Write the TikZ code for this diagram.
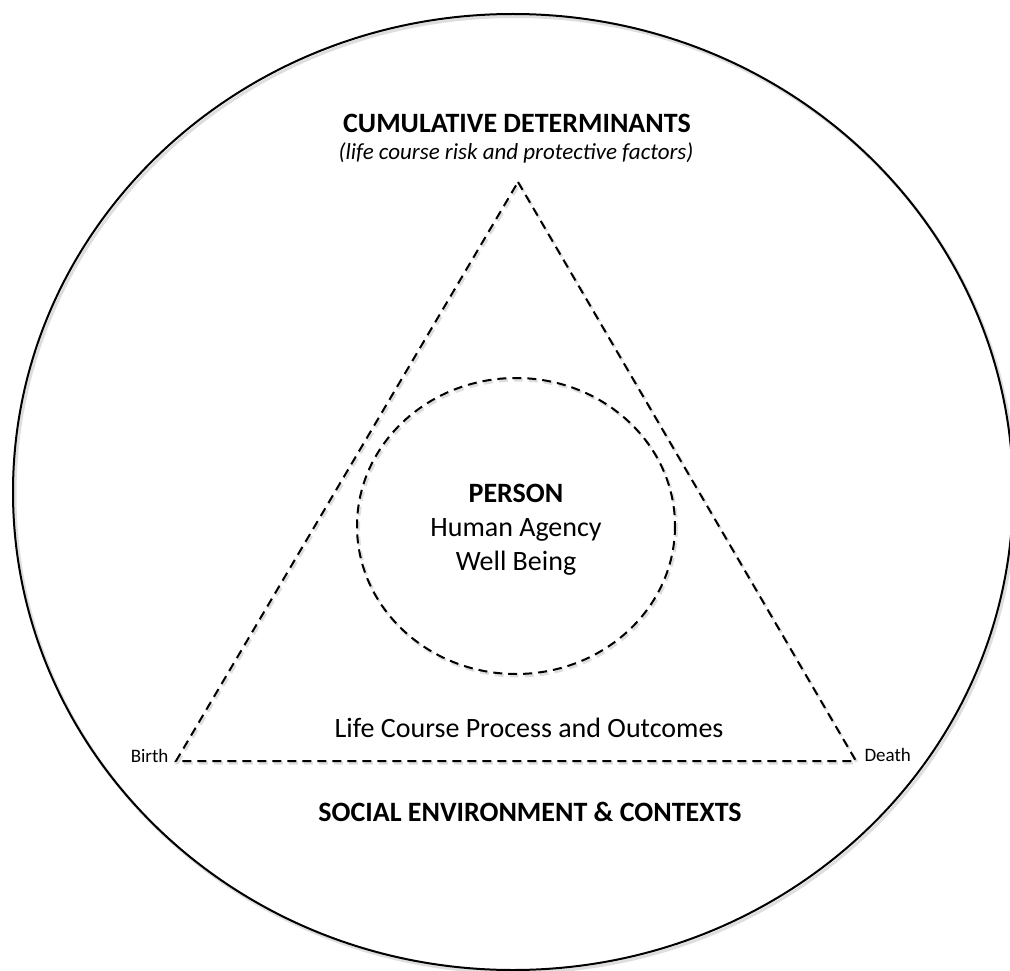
\documentclass[tikz,border=0pt]{standalone}
\usepackage{fontspec}
\setmainfont{Carlito}
\usetikzlibrary{shapes.geometric}
\begin{document}
\begin{tikzpicture}[x=1pt,y=-1pt,
  rim/.style={line width=2pt,draw=black},
  dashline/.style={line width=2pt,dash pattern=on 9pt off 6pt},
  shade/.style={line width=3pt,draw=black!25,opacity=0.5},
  head/.style={font=\fontsize{28}{32}\selectfont\bfseries},
  sub/.style={font=\fontsize{23}{27}\selectfont\itshape},
  body/.style={font=\fontsize{28}{34}\selectfont},
  tag/.style={font=\fontsize{19}{22}\selectfont}]
\useasboundingbox (0,0) rectangle (1010,971);
\fill[white] (0,0) rectangle (1010,971);

% outer context circle
\coordinate (oc) at (513,492);
\draw[shade] ([shift={(2,2.5)}]oc) ellipse [x radius=500, y radius=478];
\draw[rim] (oc) ellipse [x radius=500, y radius=478];

% life-course triangle
\coordinate (apex) at (518,182);
\coordinate (birth) at (176,761);
\coordinate (death) at (856,761);
\draw[shade,dash pattern=on 9pt off 6pt] ([shift={(1.5,2)}]apex) -- ([shift={(1.5,2)}]death) -- ([shift={(1.5,2)}]birth) -- cycle;
\draw[dashline,line join=miter] (apex) -- (death) -- (birth) -- cycle;

% person circle
\coordinate (pc) at (516,526);
\draw[shade,dash pattern=on 9pt off 6pt] ([shift={(1.5,2)}]pc) ellipse [x radius=159, y radius=148];
\draw[dashline] (pc) ellipse [x radius=159, y radius=148];

% labels
\node[head] (cum) at (517,123) {CUMULATIVE DETERMINANTS};
\node[sub] (cumsub) at (516,153) {(life course risk and protective factors)};
\node[body,align=center] (person) at (516,530) {\textbf{PERSON}\\Human Agency\\Well Being};
\node[body] (process) at (529,728) {Life Course Process and Outcomes};
\node[head] (social) at (530,812) {SOCIAL ENVIRONMENT \& CONTEXTS};
\node[tag,anchor=east] (birthlbl) at ([xshift=-4pt,yshift=5pt]birth) {Birth};
\node[tag,anchor=west] (deathlbl) at ([xshift=5pt,yshift=6pt]death) {Death};
\end{tikzpicture}
\end{document}
